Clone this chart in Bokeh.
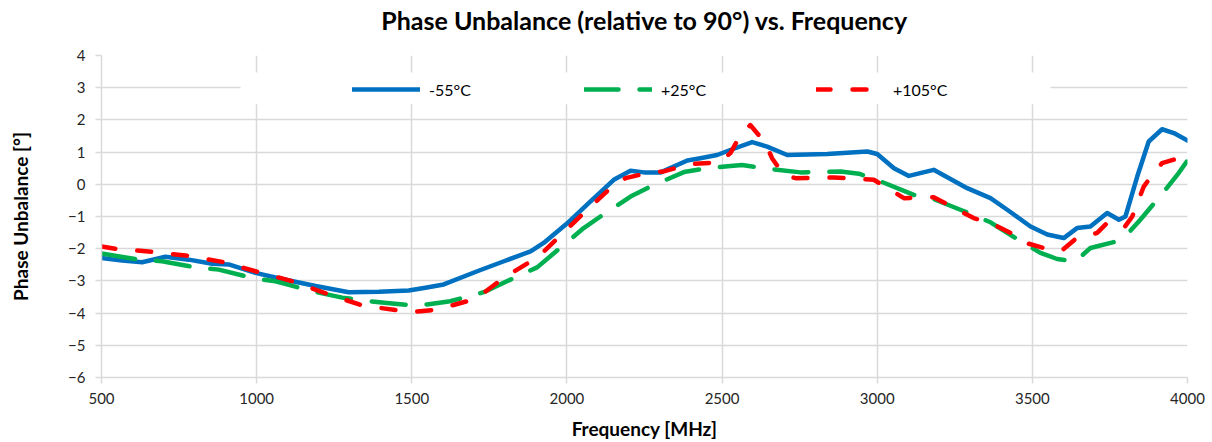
from bokeh.plotting import figure
from bokeh.models import Legend, LegendItem, BoxAnnotation, FixedTicker, Range1d, Title
from bokeh.embed import file_html
from bokeh.resources import INLINE

# ---------------- data ----------------
x_ticks = [500, 1000, 1500, 2000, 2500, 3000, 3500, 4000]
y_ticks = [-6, -5, -4, -3, -2, -1, 0, 1, 2, 3, 4]
series_labels = ["-55°C", "+25°C", "+105°C"]
title_text = "Phase Unbalance (relative to 90°) vs. Frequency"

freq_m55 = [500, 567, 631, 706, 781, 857, 910, 996, 1082, 1190, 1297, 1394, 1490, 1544,
            1603, 1711, 1797, 1883, 1925, 2000, 2076, 2151, 2205, 2248, 2302, 2388, 2430,
            2484, 2522, 2597, 2645, 2710, 2839, 2968, 3000, 3054, 3102, 3182, 3290, 3365,
            3419, 3494, 3548, 3601, 3644, 3687, 3741, 3779, 3800, 3838, 3875, 3918, 3956, 4000]
phase_m55 = [-2.29, -2.37, -2.42, -2.25, -2.34, -2.47, -2.49, -2.75, -2.94, -3.16, -3.35, -3.34,
             -3.30, -3.21, -3.11, -2.70, -2.39, -2.08, -1.82, -1.22, -0.53, 0.14, 0.42, 0.37,
             0.37, 0.74, 0.81, 0.91, 1.05, 1.31, 1.17, 0.91, 0.94, 1.02, 0.94, 0.50, 0.26,
             0.45, -0.12, -0.43, -0.79, -1.31, -1.56, -1.67, -1.36, -1.31, -0.89, -1.10,
             -1.00, 0.24, 1.33, 1.71, 1.59, 1.36]

freq_p25 = [500, 620, 695, 803, 878, 996, 1061, 1179, 1276, 1362, 1437, 1501, 1549, 1624,
            1732, 1818, 1904, 1957, 2054, 2108, 2205, 2269, 2377, 2452, 2527, 2565, 2635,
            2753, 2882, 2941, 3011, 3118, 3182, 3268, 3365, 3462, 3526, 3580, 3639, 3687,
            3773, 3805, 3848, 3929, 3967, 4000]
phase_p25 = [-2.15, -2.34, -2.39, -2.58, -2.65, -2.93, -3.01, -3.32, -3.52, -3.63, -3.70, -3.76,
             -3.73, -3.63, -3.35, -2.96, -2.58, -2.15, -1.36, -1.00, -0.38, -0.07, 0.38, 0.50,
             0.57, 0.60, 0.50, 0.37, 0.40, 0.33, 0.09, -0.33, -0.46, -0.79, -1.18, -1.77,
             -2.13, -2.32, -2.39, -1.98, -1.77, -1.56, -1.10, -0.17, 0.29, 0.74]

freq_p105 = [500, 545, 652, 771, 889, 1007, 1115, 1233, 1340, 1458, 1496, 1582, 1678, 1732,
             1797, 1893, 1926, 2001, 2065, 2140, 2189, 2269, 2312, 2398, 2489, 2527, 2559,
             2591, 2640, 2661, 2699, 2737, 2860, 2989, 3086, 3182, 3311, 3365, 3430, 3472,
             3537, 3596, 3639, 3709, 3741, 3795, 3822, 3859, 3875, 3918, 3961, 4000]
phase_p105 = [-1.93, -2.00, -2.09, -2.21, -2.41, -2.73, -3.01, -3.42, -3.76, -3.92, -3.97, -3.89,
              -3.63, -3.37, -2.90, -2.34, -2.08, -1.39, -0.79, -0.12, 0.19, 0.37, 0.40, 0.63,
              0.68, 0.97, 1.53, 1.84, 1.28, 0.81, 0.29, 0.19, 0.21, 0.14, -0.43, -0.40, -1.05,
              -1.20, -1.51, -1.80, -1.98, -2.05, -1.70, -1.51, -1.20, -1.36, -1.00, -0.07,
              0.14, 0.66, 0.78, 0.78]

# ---------------- figure ----------------
FONT = "Lato"
p = figure(width=1212, height=442, output_backend="svg", toolbar_location=None,
           x_range=Range1d(500, 4000), y_range=Range1d(-6, 4),
           min_border_left=101, min_border_right=25, min_border_top=55, min_border_bottom=64)

p.title.text = title_text
p.title.align = "center"
p.title.vertical_align = "bottom"
p.title.text_font = FONT
p.title.text_font_size = "25px"
p.title.text_font_style = "bold"
p.title.text_color = "#000000"
p.title.standoff = 0

# invisible spacer between the title and the plot frame
p.add_layout(Title(text=" ", text_font_size="12px", standoff=5), "above")

p.outline_line_color = None
p.background_fill_color = "white"
p.border_fill_color = "white"

for ax in (p.xaxis, p.yaxis):
    ax.axis_line_color = "#D9D9D9"
    ax.axis_line_width = 1.5
    ax.major_tick_line_color = "#D9D9D9"
    ax.major_tick_line_width = 1.5
    ax.major_tick_in = 0
    ax.major_tick_out = 6
    ax.minor_tick_line_color = None
    ax.major_label_text_font = FONT
    ax.major_label_text_font_size = "15px"
    ax.major_label_text_color = "#262626"
    ax.axis_label_text_font = FONT
    ax.axis_label_text_font_size = "19px"
    ax.axis_label_text_font_style = "bold"
    ax.axis_label_text_color = "#000000"

p.xaxis.ticker = FixedTicker(ticks=x_ticks)
p.yaxis.ticker = FixedTicker(ticks=y_ticks)
p.xaxis.major_label_standoff = 9
p.yaxis.major_label_standoff = 10
p.xaxis.axis_label = "Frequency [MHz]"
p.yaxis.axis_label = "Phase Unbalance [°]"
p.xaxis.axis_label_standoff = 10
p.yaxis.axis_label_standoff = 33

p.xgrid.ticker = FixedTicker(ticks=x_ticks)
p.ygrid.ticker = FixedTicker(ticks=y_ticks)
for g in (p.xgrid, p.ygrid):
    g.grid_line_color = "#D9D9D9"
    g.grid_line_width = 1.5

r1 = p.line(freq_m55, phase_m55, line_color="#0070C0", line_width=4.5,
            line_join="round", line_cap="round")
r2 = p.line(freq_p25, phase_p25, line_color="#00B050", line_width=4.5,
            line_dash="34 21", line_join="round", line_cap="round")
r3 = p.line(freq_p105, phase_p105, line_color="#FF0000", line_width=4.5,
            line_dash="14 22", line_join="round", line_cap="round")

# white legend backdrop (as in the spreadsheet chart)
px_per_x = 1086 / 3500.0
px_per_y = 323 / 10.0
box = BoxAnnotation(left=500 + 139 / px_per_x, right=500 + 949 / px_per_x,
                    top=4 - 17 / px_per_y, bottom=4 - 49 / px_per_y,
                    fill_color="white", fill_alpha=1.0, line_color=None)
p.add_layout(box)

legend = Legend(items=[LegendItem(label=series_labels[0], renderers=[r1]),
                       LegendItem(label=series_labels[1], renderers=[r2]),
                       LegendItem(label=series_labels[2], renderers=[r3])],
                orientation="horizontal", location=(245, 272),
                glyph_width=68, glyph_height=20, label_width=150, spacing=5,
                label_standoff=9, padding=6, margin=0,
                background_fill_alpha=0, border_line_alpha=0,
                label_text_font=FONT, label_text_font_size="16px",
                label_text_color="#000000")
p.add_layout(legend)

open("out.html", "w").write(file_html(p, INLINE))
